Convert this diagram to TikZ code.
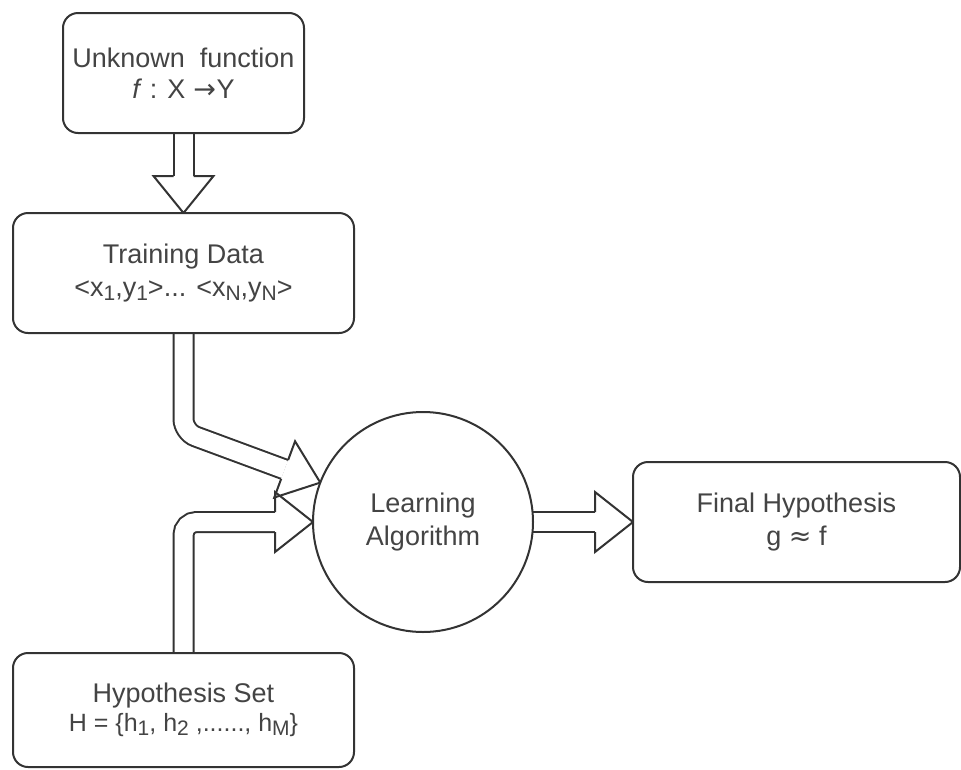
\documentclass[tikz,border=0pt]{standalone}
\usepackage{fontspec}
\setmainfont{Liberation Sans}
\newfontfamily\symfont{DejaVu Sans}
\usetikzlibrary{calc,backgrounds}
\definecolor{linec}{HTML}{333333}
\definecolor{textc}{HTML}{444444}
\newcommand\lsub[1]{\raisebox{-0.3ex}{\fontsize{21}{21}\selectfont #1}}
\newcommand\fheadfill[2]{\fill[white] ($(#2)!10pt!90:(#1)$) -- ($(#2)!30pt!90:(#1)$) -- (#1) -- ($(#2)!30pt!-90:(#1)$) -- ($(#2)!10pt!-90:(#1)$) -- cycle;}
\newcommand\fheadline[2]{\draw[headstyle] ($(#2)!10pt!90:(#1)$) -- ($(#2)!30pt!90:(#1)$) -- (#1) -- ($(#2)!30pt!-90:(#1)$) -- ($(#2)!10pt!-90:(#1)$);}
\begin{document}
\begin{tikzpicture}[x=1pt,y=-1pt,
  box/.style={draw=linec, line width=2pt, rounded corners=15pt, fill=white, text=textc,
    align=center, inner sep=0pt, outer sep=0pt, font=\fontsize{27}{33}\selectfont},
  circ/.style={draw=linec, line width=2pt, circle, fill=white, text=textc, align=center,
    inner sep=0pt, outer sep=0pt, minimum size=220pt, font=\fontsize{27}{33}\selectfont},
  shaft/.style={draw=linec, line width=2pt, double=white, double distance=18pt, rounded corners=13pt},
  headstyle/.style={draw=linec, line width=2pt, line join=miter}]
\useasboundingbox (0,0) rectangle (961,769);

\node[box, minimum width=241pt, minimum height=120pt] (f) at (183.5,73)
  {Unknown\ \ function\\[-2pt]\textit{f} : X\hspace{0.3em}{\symfont →}\hspace{0.02em}Y};
\node[box, minimum width=341pt, minimum height=120pt] (td) at (183.5,273)
  {Training Data\\<x\lsub{1},y\lsub{1}>... <x\lsub{N},y\lsub{N}>};
\node[box, minimum width=341pt, minimum height=114pt] (hs) at (183.5,710)
  {Hypothesis Set\\[-4pt]{\fontsize{25}{30}\selectfont H = \{h\lsub{1}, h\lsub{2} ,......, h\lsub{M}\}}};
\node[circ] (la) at (423,522) {Learning\\Algorithm};
\node[box, minimum width=327pt, minimum height=120pt] (fh) at (796.5,522)
  {Final Hypothesis\\g {\symfont ≈} f};

\coordinate (b1) at ($(td.south)+(0,99)$);
\coordinate (b2) at (hs.north |- la.west);
\coordinate (h0) at ($(td.north)!37pt!(f.south)$);
\coordinate (h1) at ($(la.159)!38pt!(b1)$);
\coordinate (h2) at ($(la.west)!38pt!(b2)$);
\coordinate (h3) at ($(fh.west)!38pt!(la.east)$);

\begin{pgfonlayer}{background}
  \draw[shaft] (f.south) -- (h0);
  \draw[shaft] (td.south) -- (b1) -- (h1);
  \draw[shaft] (hs.north) -- (b2) -- (h2);
  \draw[shaft] (la.east) -- (h3);
  \fheadfill{td.north}{h0}
  \fheadfill{la.159}{h1}
  \fheadfill{la.west}{h2}
  \fheadfill{fh.west}{h3}
  \fheadline{td.north}{h0}
  \fheadline{la.159}{h1}
  \fheadline{la.west}{h2}
  \fheadline{fh.west}{h3}
\end{pgfonlayer}
\end{tikzpicture}
\end{document}
